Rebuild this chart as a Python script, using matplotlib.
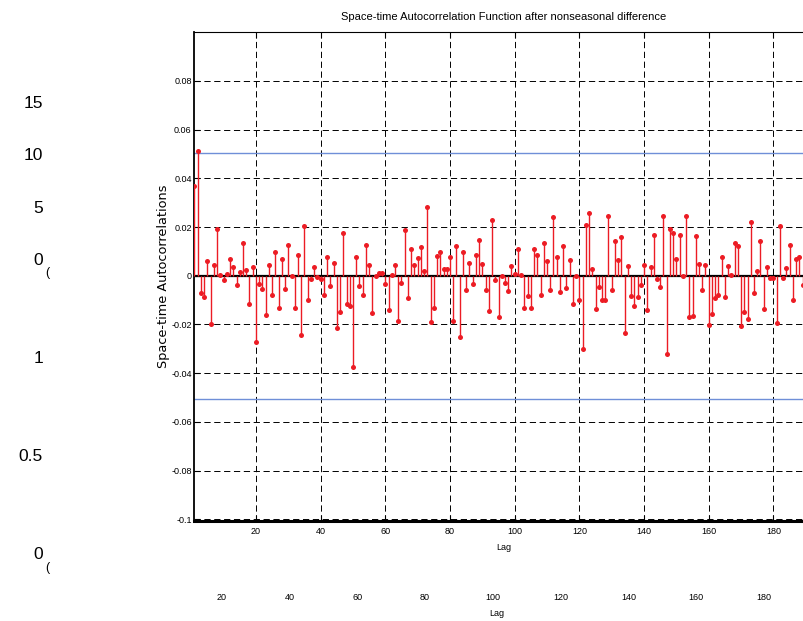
import numpy as np
import matplotlib.pyplot as plt

plt.rcParams['lines.scale_dashes'] = False
narrow = ['Liberation Sans Narrow', 'Liberation Sans', 'DejaVu Sans']

# sample autocorrelations, lags 1..189 (the rest falls outside the picture)
lags = np.arange(1, 190)
acf = [
    0.0367, 0.0514, -0.0070, -0.0087, 0.0062, -0.0197, 0.0044, 0.0192, 0.0003, -0.0017,
    0.0007, 0.0067, 0.0037, -0.0037, 0.0015, 0.0133, 0.0023, -0.0115, 0.0037, -0.0271,
    -0.0033, -0.0054, -0.0159, 0.0044, -0.0078, 0.0096, -0.0131, 0.0067, -0.0056, 0.0126,
    0.0000, -0.0131, 0.0085, -0.0245, 0.0206, -0.0098, -0.0014, 0.0036, -0.0004, -0.0012,
    -0.0078, 0.0077, -0.0041, 0.0051, -0.0216, -0.0148, 0.0177, -0.0115, -0.0125, -0.0375,
    0.0077, -0.0041, -0.0078, 0.0125, 0.0045, -0.0153, 0.0000, 0.0012, 0.0010, -0.0034,
    -0.0142, 0.0004, 0.0044, -0.0187, -0.0030, 0.0190, -0.0093, 0.0111, 0.0044, 0.0074,
    0.0118, 0.0018, 0.0282, -0.0190, -0.0133, 0.0081, 0.0096, 0.0026, 0.0026, 0.0077,
    -0.0186, 0.0122, -0.0252, 0.0096, -0.0059, 0.0051, -0.0034, 0.0085, 0.0148, 0.0047,
    -0.0059, -0.0146, 0.0230, -0.0019, -0.0170, 0.0000, -0.0030, -0.0063, 0.0041, 0.0007,
    0.0109, 0.0003, -0.0131, -0.0084, -0.0131, 0.0111, 0.0085, -0.0078, 0.0136, 0.0059,
    -0.0060, 0.0243, 0.0077, -0.0067, 0.0122, -0.0052, 0.0066, -0.0115, 0.0000, -0.0098,
    -0.0301, 0.0208, 0.0256, 0.0026, -0.0135, -0.0048, -0.0100, -0.0098, 0.0247, -0.0060,
    0.0144, 0.0066, 0.0159, -0.0234, 0.0041, -0.0082, -0.0124, -0.0089, -0.0037, 0.0044,
    -0.0142, 0.0037, 0.0166, -0.0015, -0.0048, 0.0247, -0.0323, 0.0192, 0.0175, 0.0067,
    0.0166, 0.0000, 0.0247, -0.0170, -0.0164, 0.0162, 0.0048, -0.0060, 0.0044, -0.0201,
    -0.0157, -0.0093, -0.0078, 0.0077, -0.0087, 0.0040, 0.0004, 0.0136, 0.0122, -0.0205,
    -0.0148, -0.0179, 0.0219, -0.0071, 0.0018, 0.0144, -0.0137, 0.0037, -0.0011, -0.0011,
    -0.0192, 0.0203, -0.0008, 0.0033, 0.0125, -0.0098, 0.0070, 0.0077, -0.0037,
]
conf_bound = 0.0506

lag_ticks = [20, 40, 60, 80, 100, 120, 140, 160, 180]
acf_yticks = [-0.1, -0.08, -0.06, -0.04, -0.02, 0, 0.02, 0.04, 0.06, 0.08]
acf_ylabels = ['-0.1', '-0.08', '-0.06', '-0.04', '-0.02', '0', '0.02', '0.04', '0.06', '0.08']

# leftover tick labels of the figure lying underneath
bg_top_ticks = [0, 5, 10, 15]
bg_bot_ticks = [0, 0.5, 1]
bg_bot_labels = ['0', '0.5', '1']

W, H = 804, 621
fig = plt.figure(figsize=(W / 100, H / 100), dpi=100)


def px_axes(left, top, right, bottom, **kw):
    return fig.add_axes([left / W, 1 - bottom / H, (right - left) / W, (bottom - top) / H], **kw)


def bare(ax):
    ax.patch.set_visible(False)
    for s in ax.spines.values():
        s.set_visible(False)


# background figure (only its labels are left visible)
bg1 = px_axes(48, 101.7, 804, 259)
bare(bg1)
bg1.set_ylim(0, 15)
bg1.set_yticks(bg_top_ticks)
bg1.set_xticks([])
bg1.tick_params(axis='y', length=0, pad=3.6, labelsize=12.5)
for t in bg1.get_yticklabels():
    t.set_family(['Liberation Sans', 'DejaVu Sans'])

bg2 = px_axes(48, 356.7, 804, 590)
bare(bg2)
bg2.set_ylim(-0.1885, 1)
bg2.set_xlim(-31.2, 191.8)
bg2.set_yticks(bg_bot_ticks)
bg2.set_yticklabels(bg_bot_labels)
bg2.set_xticks(lag_ticks)
bg2.tick_params(axis='y', length=0, pad=3.6, labelsize=12.5)
bg2.tick_params(axis='x', length=0, pad=2, labelsize=6.5)
for t in bg2.get_yticklabels():
    t.set_family(['Liberation Sans', 'DejaVu Sans'])
for t in bg2.get_xticklabels():
    t.set_family(narrow)
bg2.set_xlabel('Lag', fontsize=6.5, family=narrow, va='center')
bg2.xaxis.set_label_coords((497 - 48) / 756, -(614 - 590) / 233.3)

for y in (273, 568):
    fig.text(47 / W, 1 - y / H, '(', fontsize=9, ha='center', va='center',
             family=['Liberation Sans', 'DejaVu Sans'])

# front axes: the ACF stem plot
ax = px_axes(194.5, 32.3, 813.5, 521)
ax.set_facecolor('white')
ax.set_xlim(1, 192.4)
ax.set_ylim(-0.1007, 0.1)

ax.grid(True, color='black', linestyle=(0, (4.5, 2.6)), linewidth=0.7)
ax.set_axisbelow(True)

red = '#ec1c24'
ax.vlines(lags, 0, acf, color=red, linewidth=1.0, zorder=3)
ax.plot(lags, acf, 'o', color=red, markersize=3.6, markeredgewidth=0, zorder=4)
ax.axhline(0, color='black', linewidth=1.6, zorder=2.5)
ax.axhline(conf_bound, color='#6f8fd8', linewidth=1.0, zorder=2.5)
ax.axhline(-conf_bound, color='#6f8fd8', linewidth=1.0, zorder=2.5)

ax.set_xticks(lag_ticks)
ax.set_yticks(acf_yticks)
ax.set_yticklabels(acf_ylabels)
ax.tick_params(direction='in', length=4, width=0.8, top=True, labelsize=6.5)
ax.tick_params(axis='y', pad=2)
ax.tick_params(axis='x', pad=4)
for t in ax.get_xticklabels() + ax.get_yticklabels():
    t.set_family(narrow)

ax.spines['left'].set_linewidth(1.3)
ax.spines['bottom'].set_linewidth(2.2)
ax.spines['top'].set_linewidth(0.8)
ax.spines['right'].set_visible(False)

ax.set_title('Space-time Autocorrelation Function after nonseasonal difference',
             fontsize=8, family=narrow, pad=9)
ax.set_xlabel('Lag', fontsize=6.5, family=narrow, va='center')
ax.xaxis.set_label_coords(0.5, -(548 - 521) / 488.7)
ax.set_ylabel('Space-time Autocorrelations', fontsize=9.3, family='DejaVu Sans', va='center')
ax.yaxis.set_label_coords((164 - 194.5) / 619, 0.5)

fig.savefig('out.png', dpi=100, facecolor='white')
